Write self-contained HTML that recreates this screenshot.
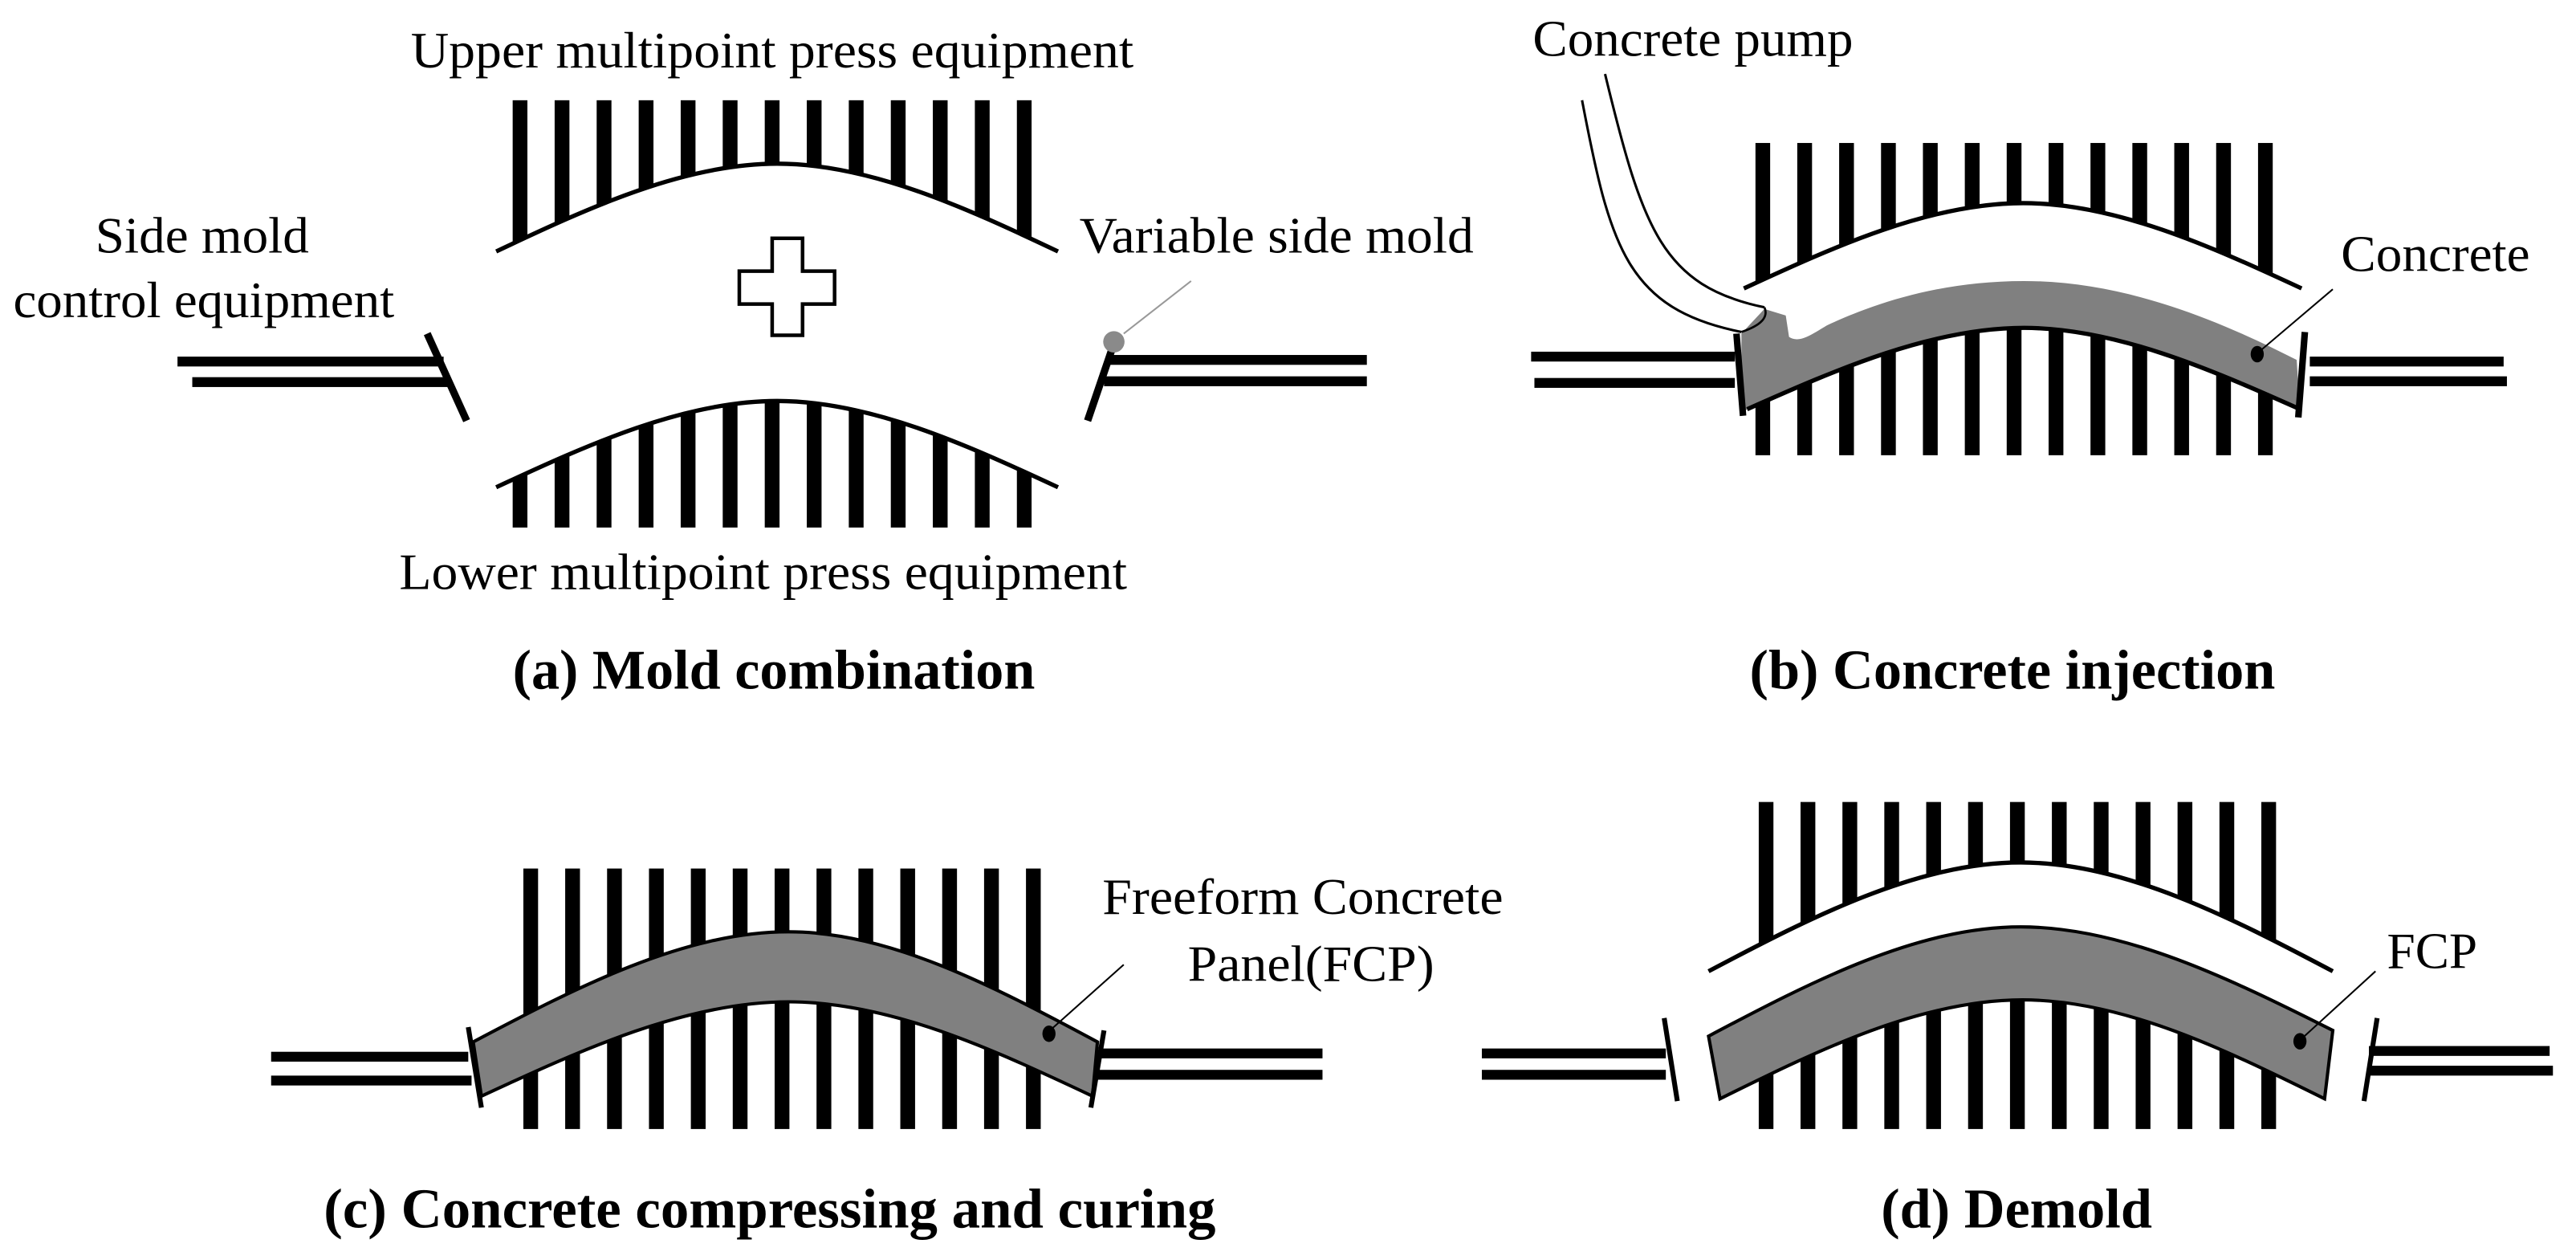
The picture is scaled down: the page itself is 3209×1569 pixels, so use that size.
<!DOCTYPE html>
<html><head><meta charset="utf-8"><style>
html,body{margin:0;padding:0;background:#fff}
svg{display:block}
text{font-family:"Liberation Serif","Times New Roman","DejaVu Serif",serif;fill:#000}
.b{font-weight:bold}
</style></head><body>
<svg width="3209" height="1569" viewBox="0 0 1568 766.7" xmlns="http://www.w3.org/2000/svg" font-family="Liberation Serif, serif">
<defs>
<pattern id="pa" patternUnits="userSpaceOnUse" x="312" y="0" width="25.58" height="10"><rect x="0" y="0" width="9" height="10" fill="#000"/></pattern>
<pattern id="pb" patternUnits="userSpaceOnUse" x="1068.5" y="0" width="25.5" height="10"><rect x="0" y="0" width="9" height="10" fill="#000"/></pattern>
<pattern id="pc" patternUnits="userSpaceOnUse" x="318.5" y="0" width="25.5" height="10"><rect x="0" y="0" width="9" height="10" fill="#000"/></pattern>
<pattern id="pd" patternUnits="userSpaceOnUse" x="1070.5" y="0" width="25.5" height="10"><rect x="0" y="0" width="9" height="10" fill="#000"/></pattern>
<clipPath id="caU"><path d="M302,153 C358.4,126.3 416.6,99.6 473,99.6 C529.4,99.6 587.6,126.3 644,153 L644,0 L302,0 Z"/></clipPath>
<clipPath id="caL"><path d="M302,296.5 C358.4,270.25 416.6,244 473,244 C529.4,244 587.6,270.25 644,296.5 L644,400 L302,400 Z"/></clipPath>
<clipPath id="cbU"><path d="M1061.5,175.5 C1117.6,149.55 1175.4,123.6 1231.5,123.6 C1287.4,123.6 1345.1,149.55 1401,175.5 L1401,0 L1061.5,0 Z"/></clipPath>
<clipPath id="cbL"><path d="M1063.5,249 C1119.1,224.25 1176.4,199.5 1232,199.5 C1287.4,199.5 1344.6,224.25 1400,249 L1400,300 L1063.5,300 Z"/></clipPath>
<clipPath id="cdU"><path d="M1040,591 C1102.7,557.9 1167.3,524.8 1230,524.8 C1292.7,524.8 1357.3,557.9 1420,591 L1420,0 L1040,0 Z"/></clipPath>
<clipPath id="cdL"><path d="M1415,668.6 C1354.3,638.5 1292.3,608.4 1231,608.4 C1169.7,608.4 1107.7,638.5 1047,668.6 L1047,800 L1415,800 Z"/></clipPath>
</defs>

<!-- ===== (a) ===== -->
<text x="250" y="41" font-size="31" textLength="440" lengthAdjust="spacingAndGlyphs">Upper multipoint press equipment</text>
<rect x="312" y="61" width="316" height="100" fill="url(#pa)" clip-path="url(#caU)"/>
<path d="M302,153 C358.4,126.3 416.6,99.6 473,99.6 C529.4,99.6 587.6,126.3 644,153" fill="none" stroke="#000" stroke-width="2.6"/>
<path d="M470,145 H488.5 V165 H508 V185 H488.5 V204 H470 V185 H450 V165 H470 Z" fill="#fff" stroke="#000" stroke-width="2.2"/>
<rect x="312" y="230" width="316" height="91" fill="url(#pa)" clip-path="url(#caL)"/>
<path d="M302,296.5 C358.4,270.25 416.6,244 473,244 C529.4,244 587.6,270.25 644,296.5" fill="none" stroke="#000" stroke-width="2.6"/>
<text x="243" y="358.5" font-size="31" textLength="443" lengthAdjust="spacingAndGlyphs">Lower multipoint press equipment</text>
<text x="58" y="153.6" font-size="31" textLength="130" lengthAdjust="spacingAndGlyphs">Side mold</text>
<text x="8" y="193" font-size="31" textLength="232" lengthAdjust="spacingAndGlyphs">control equipment</text>
<text x="657" y="153.6" font-size="31" textLength="240" lengthAdjust="spacingAndGlyphs">Variable side mold</text>
<rect x="108" y="217" width="162" height="6" fill="#000"/>
<rect x="117" y="229.5" width="157" height="6" fill="#000"/>
<line x1="260" y1="203" x2="284" y2="256" stroke="#000" stroke-width="4.5"/>
<rect x="674" y="216" width="158" height="6" fill="#000"/>
<rect x="672" y="229" width="160" height="6" fill="#000"/>
<line x1="677" y1="212" x2="662" y2="256" stroke="#000" stroke-width="4.5"/>
<line x1="684" y1="203" x2="725" y2="171" stroke="#999" stroke-width="1"/>
<circle cx="678" cy="208" r="6.5" fill="#8a8a8a"/>
<text class="b" x="312" y="419" font-size="34" textLength="318" lengthAdjust="spacingAndGlyphs">(a) Mold combination</text>

<!-- ===== (b) ===== -->
<text x="933" y="34" font-size="31" textLength="195" lengthAdjust="spacingAndGlyphs">Concrete pump</text>
<rect x="1068.5" y="87" width="315" height="95" fill="url(#pb)" clip-path="url(#cbU)"/>
<path d="M1061.5,175.5 C1117.6,149.55 1175.4,123.6 1231.5,123.6 C1287.4,123.6 1345.1,149.55 1401,175.5" fill="none" stroke="#000" stroke-width="2.6"/>
<rect x="1068.5" y="190" width="315" height="87" fill="url(#pb)" clip-path="url(#cbL)"/>
<path d="M1060,252 L1063.5,249 C1119.1,224.25 1176.4,199.5 1232,199.5 C1287.4,199.5 1344.6,224.25 1400,249 L1398,219 C1345,192 1290,171 1232,171 C1180,171 1140,185 1112,198 C1102,204 1095,209 1089,205 L1087,192 L1074,188 L1060,203 Z" fill="#808080"/>
<path d="M1063.5,249 C1119.1,224.25 1176.4,199.5 1232,199.5 C1287.4,199.5 1344.6,224.25 1400,249" fill="none" stroke="#000" stroke-width="2.6"/>
<path d="M963,61 C980,150 990,188 1060,202 L1074,187 C1012,174 1000,140 977,45 Z" fill="#fff" stroke="none"/>
<path d="M963,61 C980,150 990,188 1060,202" fill="none" stroke="#000" stroke-width="1.5"/>
<path d="M977,45 C1000,140 1012,174 1074,187" fill="none" stroke="#000" stroke-width="1.5"/>
<path d="M1074,187 Q1078,196 1060,202" fill="none" stroke="#000" stroke-width="1.3"/>
<rect x="932" y="214" width="124" height="6" fill="#000"/>
<rect x="934" y="230" width="122" height="6" fill="#000"/>
<line x1="1057" y1="203" x2="1061" y2="253" stroke="#000" stroke-width="4"/>
<rect x="1406" y="217" width="118" height="6" fill="#000"/>
<rect x="1406" y="229" width="120" height="6" fill="#000"/>
<line x1="1403" y1="202" x2="1399" y2="254" stroke="#000" stroke-width="4"/>
<line x1="1374" y1="215" x2="1420" y2="176" stroke="#000" stroke-width="1"/>
<ellipse cx="1374" cy="215.5" rx="4" ry="5" fill="#000"/>
<text x="1425" y="165" font-size="31" textLength="115" lengthAdjust="spacingAndGlyphs">Concrete</text>
<text class="b" x="1065" y="419" font-size="34" textLength="320" lengthAdjust="spacingAndGlyphs">(b) Concrete injection</text>

<!-- ===== (c) ===== -->
<rect x="318.5" y="528.5" width="315" height="158.5" fill="url(#pc)"/>
<rect x="165" y="640" width="120" height="6" fill="#000"/>
<rect x="165" y="654.5" width="122" height="6" fill="#000"/>
<rect x="670" y="638" width="135" height="6" fill="#000"/>
<rect x="668" y="651" width="137" height="6" fill="#000"/>
<path d="M288,634 C351.4,600.5 416.6,567 480,567 C542,567 605.5,600.5 668,634 L665,667 C604,638.3 541.7,609.6 480,609.6 C418.3,609.6 354.7,638.3 293,667 Z" fill="#808080" stroke="#000" stroke-width="2"/>
<line x1="285" y1="625" x2="293" y2="674" stroke="#000" stroke-width="3"/>
<line x1="672" y1="627" x2="664" y2="674" stroke="#000" stroke-width="3"/>
<line x1="638" y1="628" x2="684" y2="587" stroke="#000" stroke-width="1"/>
<ellipse cx="638.5" cy="629" rx="4" ry="5" fill="#000"/>
<text x="671" y="556" font-size="31" textLength="244" lengthAdjust="spacingAndGlyphs">Freeform Concrete</text>
<text x="723" y="597" font-size="31" textLength="150" lengthAdjust="spacingAndGlyphs">Panel(FCP)</text>
<text class="b" x="197" y="747" font-size="34" textLength="543" lengthAdjust="spacingAndGlyphs">(c) Concrete compressing and curing</text>

<!-- ===== (d) ===== -->
<rect x="1070.5" y="488" width="315" height="110" fill="url(#pd)" clip-path="url(#cdU)"/>
<path d="M1040,591 C1102.7,557.9 1167.3,524.8 1230,524.8 C1292.7,524.8 1357.3,557.9 1420,591" fill="none" stroke="#000" stroke-width="2.6"/>
<rect x="1070.5" y="560" width="315" height="127" fill="url(#pd)" clip-path="url(#cdL)"/>
<path d="M1040,630.5 C1102.7,597.25 1167.3,564 1230,564 C1292.7,564 1357.3,595.5 1420,627 L1415,668.6 C1354.3,638.5 1292.3,608.4 1231,608.4 C1169.7,608.4 1107.7,638.5 1047,668.6 Z" fill="#808080" stroke="#000" stroke-width="2"/>
<rect x="902" y="638" width="112" height="6" fill="#000"/>
<rect x="902" y="651" width="112" height="6" fill="#000"/>
<rect x="1442" y="636.5" width="110" height="6" fill="#000"/>
<rect x="1442" y="648.5" width="112" height="6" fill="#000"/>
<line x1="1013" y1="619.5" x2="1021" y2="670" stroke="#000" stroke-width="3"/>
<line x1="1447" y1="619.5" x2="1439" y2="670" stroke="#000" stroke-width="3"/>
<line x1="1400" y1="633" x2="1446" y2="591" stroke="#000" stroke-width="1"/>
<ellipse cx="1400" cy="633.6" rx="4" ry="5" fill="#000"/>
<text x="1453" y="589" font-size="31" textLength="55" lengthAdjust="spacingAndGlyphs">FCP</text>
<text class="b" x="1145" y="747" font-size="34" textLength="165" lengthAdjust="spacingAndGlyphs">(d) Demold</text>
</svg>
</body></html>
